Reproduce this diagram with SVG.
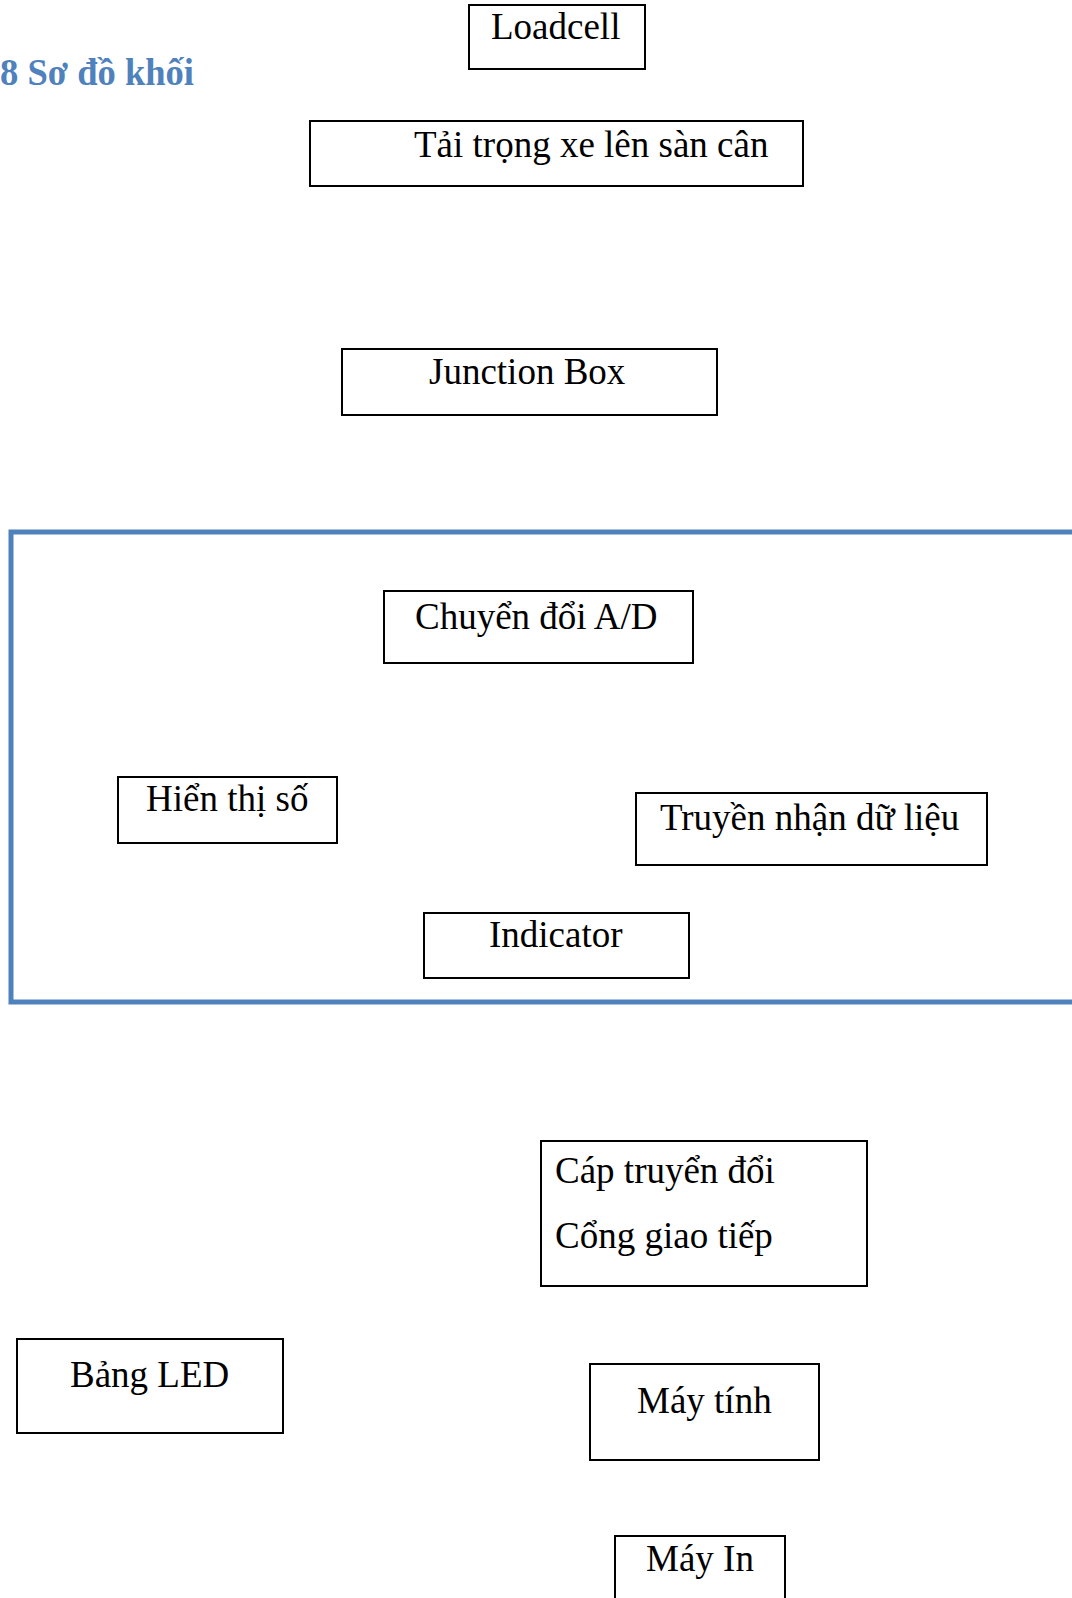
<svg xmlns="http://www.w3.org/2000/svg" width="1072" height="1598" viewBox="0 0 1072 1598">
<style>
.box{fill:#fff;stroke:#000;stroke-width:2}
.t{font-family:"Liberation Serif","Times New Roman",serif;font-size:37px;fill:#000}
.title{font-family:"Liberation Serif","Times New Roman",serif;font-size:38px;font-weight:bold;fill:#4F81BD}
.frame{fill:none;stroke:#4F81BD;stroke-width:5}
</style>
<rect width="1072" height="1598" fill="#fff"/>
<text class="title" x="0" y="85" textLength="194" lengthAdjust="spacingAndGlyphs">8 Sơ đồ khối</text>
<rect class="frame" x="11" y="532" width="1100" height="470"/>
<g id="connectors"></g>
<g id="loadcell"><rect class="box" x="469" y="5" width="176" height="64"/><text class="t" x="491" y="39">Loadcell</text></g>
<g id="tai-trong"><rect class="box" x="310" y="121" width="493" height="65"/><text class="t" x="414" y="157">Tải trọng xe lên sàn cân</text></g>
<g id="junction-box"><rect class="box" x="342" y="349" width="375" height="66"/><text class="t" x="429" y="384">Junction Box</text></g>
<g id="chuyen-doi"><rect class="box" x="384" y="591" width="309" height="72"/><text class="t" x="415" y="629">Chuyển đổi A/D</text></g>
<g id="hien-thi"><rect class="box" x="118" y="777" width="219" height="66"/><text class="t" x="146" y="811">Hiển thị số</text></g>
<g id="truyen-nhan"><rect class="box" x="636" y="793" width="351" height="72"/><text class="t" x="660" y="830">Truyền nhận dữ liệu</text></g>
<g id="indicator"><rect class="box" x="424" y="913" width="265" height="65"/><text class="t" x="489" y="947">Indicator</text></g>
<g id="cap-truyen"><rect class="box" x="541" y="1141" width="326" height="145"/><text class="t" x="555" y="1183">Cáp truyển đổi</text><text class="t" x="555" y="1248">Cổng giao tiếp</text></g>
<g id="bang-led"><rect class="box" x="17" y="1339" width="266" height="94"/><text class="t" x="70" y="1387">Bảng LED</text></g>
<g id="may-tinh"><rect class="box" x="590" y="1364" width="229" height="96"/><text class="t" x="637" y="1413">Máy tính</text></g>
<g id="may-in"><rect class="box" x="615" y="1536" width="170" height="80"/><text class="t" x="646" y="1571">Máy In</text></g>
</svg>
